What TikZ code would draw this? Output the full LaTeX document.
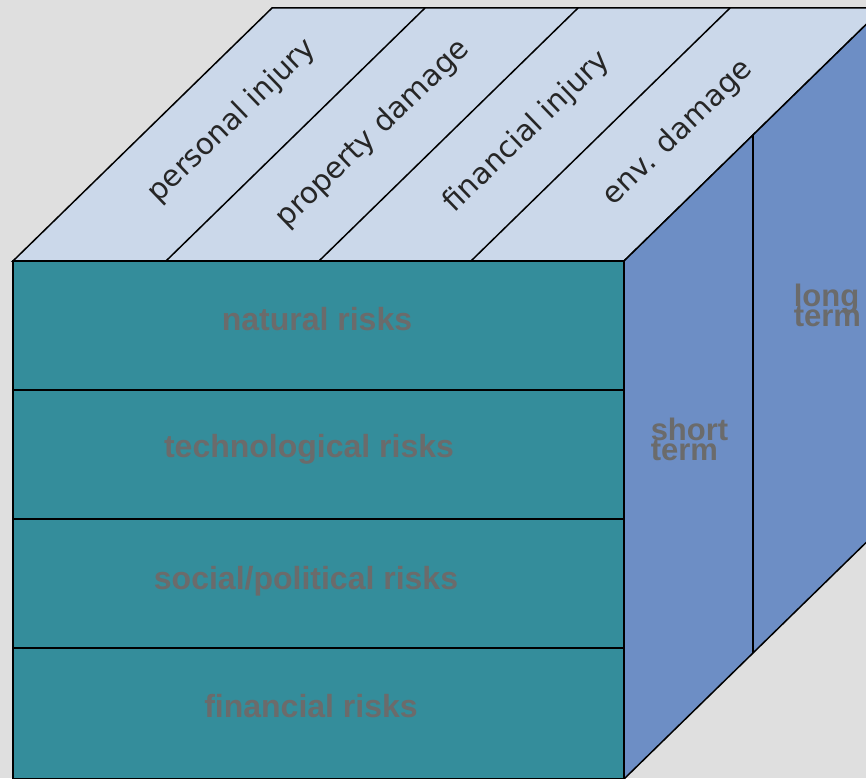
\documentclass[tikz,border=0pt]{standalone}
\usepackage{fontspec}
\usepackage{tikz}
\usepackage{color}
\newfontfamily\diagsans{DejaVu Sans}
\newfontfamily\facesans{Liberation Sans}
\newcommand\tightlines{\lineskiplimit=-30pt\relax}
\definecolor{bggray}{HTML}{DFDFDF}
\definecolor{topblue}{HTML}{CBD8EA}
\definecolor{frontteal}{HTML}{348D9B}
\definecolor{sideblue}{HTML}{6D8EC5}
\definecolor{labelgray}{HTML}{6B6B6B}
\tikzset{
  toplabel/.style={font=\diagsans\fontsize{29.5}{36}\selectfont,text=black!85,rotate=44,inner sep=0pt},
  facelabel/.style={font=\facesans\bfseries\fontsize{32}{38}\selectfont,text=labelgray,anchor=base,inner sep=0pt},
  sidelabel/.style={font=\facesans\bfseries\fontsize{31}{20}\selectfont\tightlines,text=labelgray,align=left,anchor=north west,inner sep=0pt}
}

\begin{document}
\begin{tikzpicture}[x=1pt,y=-1pt,line width=1.5pt]
\useasboundingbox (0,0) rectangle (866,778);
\fill[bggray] (0,0) rectangle (866,778);
\clip (0,0) rectangle (866,778);
\draw[fill=topblue] (13,261)--(272,8)--(883,8)--(624,261)--cycle;
\draw[fill=sideblue] (624,261)--(883,8)--(883,526)--(624,779)--cycle;
\draw[fill=frontteal] (13,261) rectangle (624,779);
\draw (166,261)--(425,8);
\draw (319,261)--(578,8);
\draw (471,261)--(730,8);
\draw (753,135)--(753,653);
\draw (13,390)--(624,390);
\draw (13,519)--(624,519);
\draw (13,648)--(624,648);
\node[toplabel] (personal) at (232,121) {personal injury};
\node[toplabel] (property) at (373,134) {property damage};
\node[toplabel] (financial) at (527,132) {financial injury};
\node[toplabel] (env) at (678,133) {env. damage};
\node[facelabel] (natural) at (317,330) {natural risks};
\node[facelabel] (technological) at (309,457) {technological risks};
\node[facelabel] (social) at (306,589) {social/political risks};
\node[facelabel] (finrisks) at (311,717) {financial risks};
\node[sidelabel] (short) at (650,417) {short\\term};
\node[sidelabel] (long) at (793,283) {long\\term};
\end{tikzpicture}
\end{document}
